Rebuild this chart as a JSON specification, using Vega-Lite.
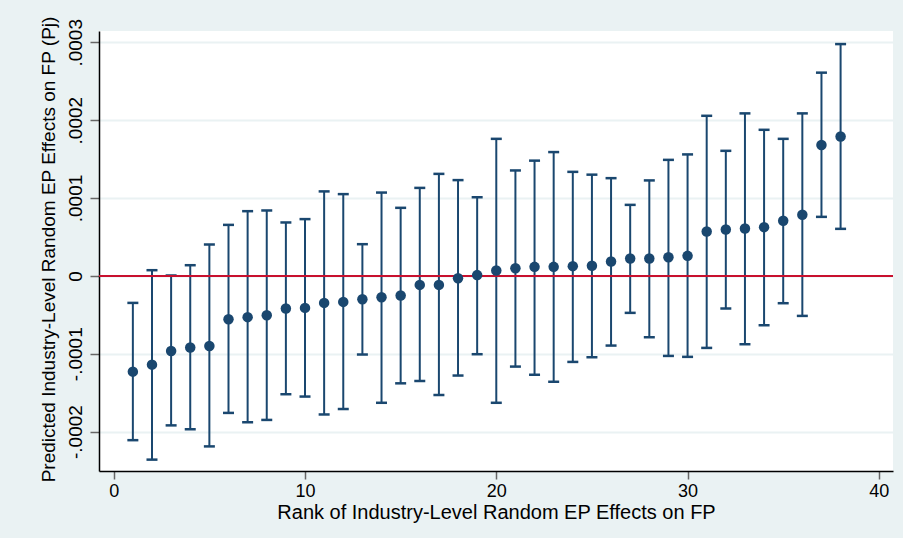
{
  "$schema": "https://vega.github.io/schema/vega-lite/v6.json",
  "width": 794,
  "height": 440,
  "autosize": {"type": "none"},
  "padding": {"left": 99, "top": 31, "right": 10, "bottom": 67},
  "background": "#EAF2F3",
  "view": {"fill": "#FFFFFF", "stroke": null},
  "config": {"font": "Liberation Sans"},
  "data": {"values": [
    {"rank": 1, "est": -0.000123, "lo": -0.000211, "hi": -0.0000347},
    {"rank": 2, "est": -0.000114, "lo": -0.000236, "hi": 0.0000073},
    {"rank": 3, "est": -0.0000964, "lo": -0.000192, "hi": 0.0000005},
    {"rank": 4, "est": -0.000092, "lo": -0.000197, "hi": 0.0000137},
    {"rank": 5, "est": -0.00009, "lo": -0.000219, "hi": 0.0000403},
    {"rank": 6, "est": -0.0000556, "lo": -0.000176, "hi": 0.0000655},
    {"rank": 7, "est": -0.000053, "lo": -0.000188, "hi": 0.0000831},
    {"rank": 8, "est": -0.0000505, "lo": -0.000185, "hi": 0.000084},
    {"rank": 9, "est": -0.0000419, "lo": -0.000152, "hi": 0.0000686},
    {"rank": 10, "est": -0.0000411, "lo": -0.000155, "hi": 0.0000729},
    {"rank": 11, "est": -0.0000347, "lo": -0.000178, "hi": 0.0001085},
    {"rank": 12, "est": -0.0000334, "lo": -0.000171, "hi": 0.000105},
    {"rank": 13, "est": -0.00003, "lo": -0.000101, "hi": 0.0000407},
    {"rank": 14, "est": -0.0000274, "lo": -0.000163, "hi": 0.000107},
    {"rank": 15, "est": -0.0000252, "lo": -0.000138, "hi": 0.0000874},
    {"rank": 16, "est": -0.0000116, "lo": -0.000135, "hi": 0.000113},
    {"rank": 17, "est": -0.0000116, "lo": -0.000153, "hi": 0.000131},
    {"rank": 18, "est": -0.000003, "lo": -0.000128, "hi": 0.000123},
    {"rank": 19, "est": 0.000001, "lo": -0.0001006, "hi": 0.000101},
    {"rank": 20, "est": 0.0000069, "lo": -0.000163, "hi": 0.000176},
    {"rank": 21, "est": 0.0000099, "lo": -0.0001165, "hi": 0.0001354},
    {"rank": 22, "est": 0.0000116, "lo": -0.000127, "hi": 0.000148},
    {"rank": 23, "est": 0.0000116, "lo": -0.000136, "hi": 0.000159},
    {"rank": 24, "est": 0.0000125, "lo": -0.0001105, "hi": 0.0001336},
    {"rank": 25, "est": 0.000013, "lo": -0.0001045, "hi": 0.00013},
    {"rank": 26, "est": 0.0000185, "lo": -0.0000895, "hi": 0.0001255},
    {"rank": 27, "est": 0.0000224, "lo": -0.0000475, "hi": 0.0000912},
    {"rank": 28, "est": 0.0000224, "lo": -0.0000788, "hi": 0.0001226},
    {"rank": 29, "est": 0.000024, "lo": -0.0001028, "hi": 0.000149},
    {"rank": 30, "est": 0.0000257, "lo": -0.000104, "hi": 0.000156},
    {"rank": 31, "est": 0.000057, "lo": -0.0000925, "hi": 0.0002056},
    {"rank": 32, "est": 0.0000596, "lo": -0.0000419, "hi": 0.0001606},
    {"rank": 33, "est": 0.0000609, "lo": -0.0000878, "hi": 0.0002087},
    {"rank": 34, "est": 0.0000626, "lo": -0.0000634, "hi": 0.0001876},
    {"rank": 35, "est": 0.0000707, "lo": -0.0000351, "hi": 0.000176},
    {"rank": 36, "est": 0.0000784, "lo": -0.0000514, "hi": 0.0002087},
    {"rank": 37, "est": 0.000168, "lo": 0.0000758, "hi": 0.000261},
    {"rank": 38, "est": 0.000179, "lo": 0.0000604, "hi": 0.0002977}
  ]},
  "encoding": {
    "x": {
      "field": "rank", "type": "quantitative",
      "scale": {"domain": [-0.77, 40.74], "nice": false, "zero": false},
      "axis": {
        "values": [0, 10, 20, 30, 40],
        "title": "Rank of Industry-Level Random EP Effects on FP",
        "grid": false,
        "domainColor": "#000000", "domainWidth": 1.5,
        "tickColor": "#666666", "tickSize": 8, "tickWidth": 1.5,
        "labelFontSize": 18, "labelColor": "#000000", "labelPadding": 3,
        "labelFont": "Liberation Sans",
        "titleFont": "Liberation Sans", "titleFontSize": 20, "titleFontWeight": "normal",
        "titleColor": "#000000", "titleBaseline": "alphabetic", "titleY": 47
      }
    }
  },
  "layer": [
    {
      "mark": {"type": "rule", "color": "#1A476F", "strokeWidth": 2},
      "encoding": {
        "y": {
          "field": "lo", "type": "quantitative",
          "scale": {"domain": [-0.0002506, 0.0003145], "nice": false, "zero": false},
          "axis": {
            "values": [-0.0002, -0.0001, 0, 0.0001, 0.0002, 0.0003],
            "labelExpr": "replace(replace(format(datum.value, '.4~f'), '0.', '.'), '\u2212', '-')",
            "title": "Predicted Industry-Level Random EP Effects on FP (Pj)",
            "grid": true, "gridColor": "#EAF2F3", "gridWidth": 2,
            "domainColor": "#000000", "domainWidth": 1.5,
            "tickColor": "#666666", "tickSize": 9, "tickWidth": 1.5,
            "labelAngle": 270, "labelAlign": "center", "labelBaseline": "alphabetic",
            "labelPadding": 9, "labelFontSize": 19, "labelColor": "#000000",
            "labelFont": "Liberation Sans",
            "titleFont": "Liberation Sans", "titleFontSize": 19, "titleFontWeight": "normal",
            "titleColor": "#000000", "titleAngle": 270, "titleBaseline": "alphabetic",
            "titleAlign": "center", "titleX": -44.5, "titleY": 218
          }
        },
        "y2": {"field": "hi"}
      }
    },
    {
      "mark": {"type": "tick", "orient": "horizontal", "color": "#1A476F", "size": 11, "thickness": 2.5, "opacity": 1},
      "encoding": {"y": {"field": "lo", "type": "quantitative"}}
    },
    {
      "mark": {"type": "tick", "orient": "horizontal", "color": "#1A476F", "size": 11, "thickness": 2.5, "opacity": 1},
      "encoding": {"y": {"field": "hi", "type": "quantitative"}}
    },
    {
      "data": {"values": [{"zero": 0}]},
      "mark": {"type": "rule", "color": "#C8102E", "strokeWidth": 2},
      "encoding": {"x": null, "y": {"field": "zero", "type": "quantitative"}}
    },
    {
      "mark": {"type": "point", "filled": true, "color": "#1A476F", "size": 110, "opacity": 1},
      "encoding": {"y": {"field": "est", "type": "quantitative"}}
    }
  ]
}
